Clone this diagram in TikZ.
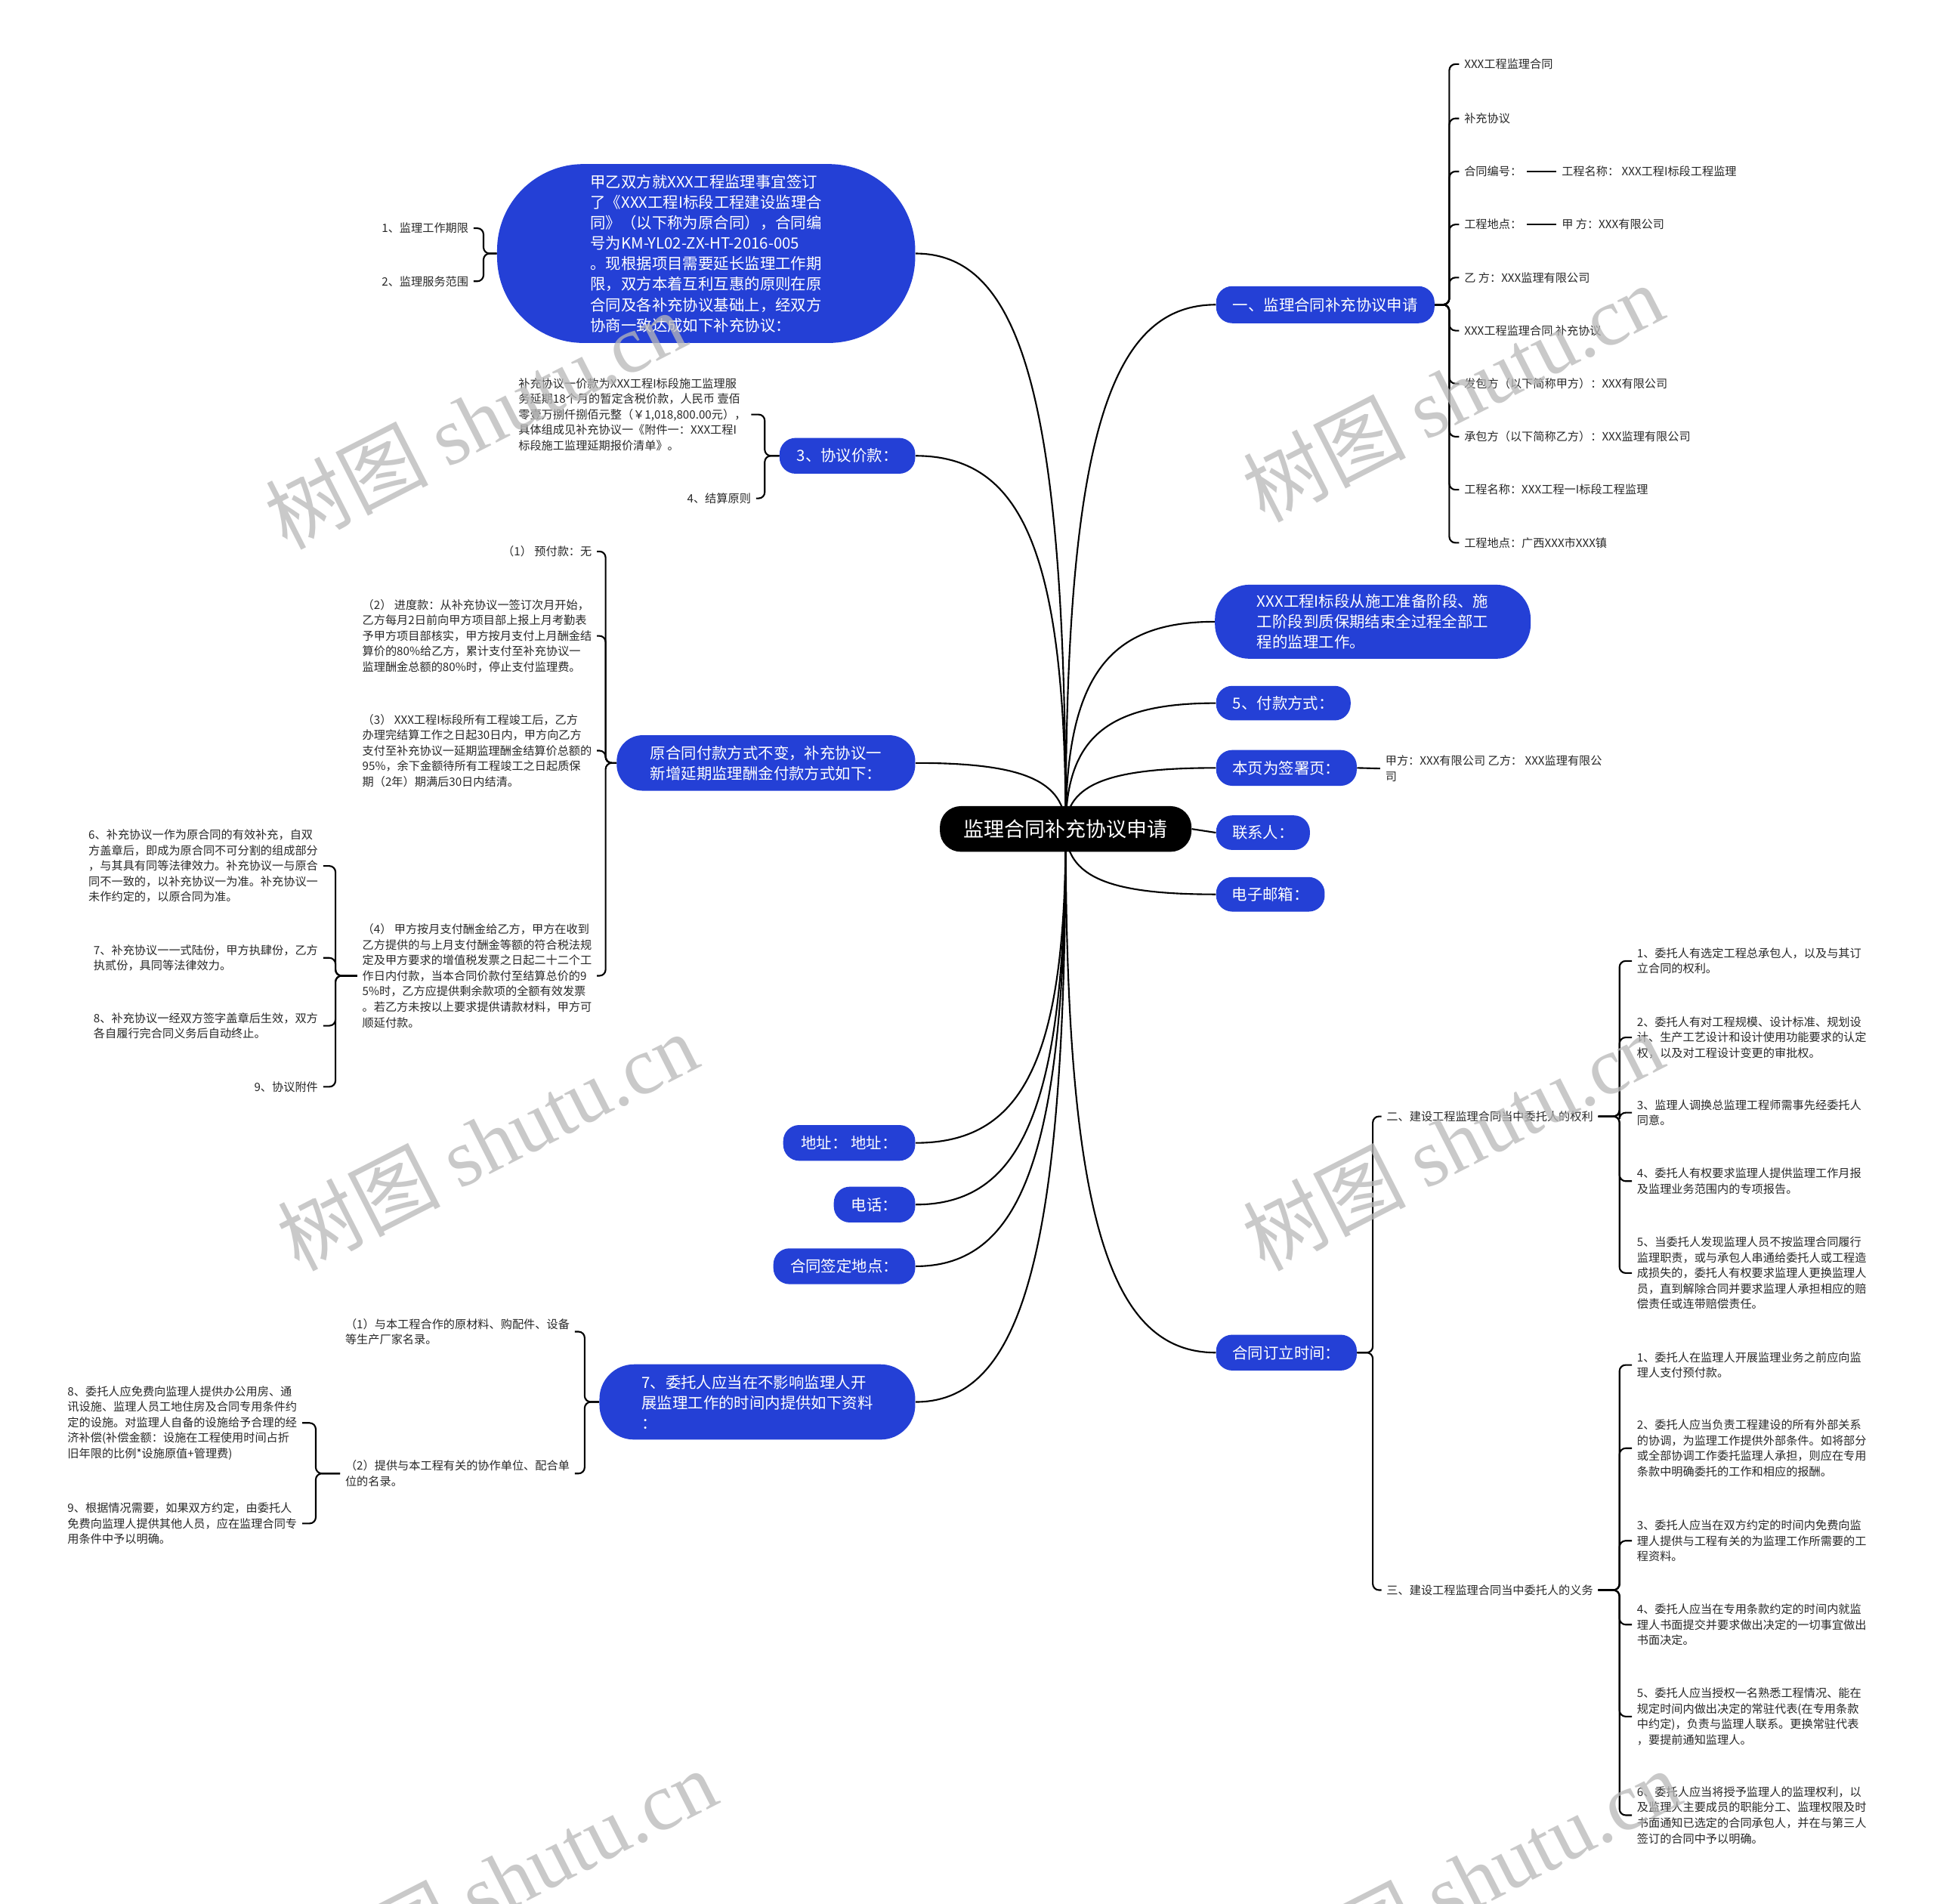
\documentclass[tikz,border=0pt]{standalone}
\usepackage{fontspec}
\setmainfont{Noto Sans CJK SC}
\newfontfamily\wmlatin{Liberation Serif}
\usetikzlibrary{calc,backgrounds}
\definecolor{nodeblue}{RGB}{36,64,214}
\definecolor{wmgray}{gray}{0.72}
\definecolor{leaftext}{RGB}{40,40,40}
\tikzset{
  conn/.style={draw=black, line width=1.3pt},
  bnode/.style={fill=nodeblue, text=white, font=\fontsize{12.5}{16.6}\selectfont, align=left, inner sep=0pt},
  leaf/.style={text=leaftext, font=\fontsize{9.3}{12.6}\selectfont, align=left, inner xsep=4pt, inner ysep=2pt},
  rootnode/.style={fill=black, text=white, font=\fontsize{16.5}{20}\selectfont, inner sep=0pt, rounded corners=17pt, minimum width=204pt, minimum height=37pt},
  wm/.style={text=wmgray, text opacity=0.75, rotate=27, font=\fontsize{66}{66}\selectfont}
}
\newcommand\branch[2]{\draw[conn] let \p1=(#1), \p2=(#2) in (\p1) .. controls (\x1, {\y2+0.25*(\y1-\y2)}) and ({\x1+0.3*(\x2-\x1)}, \y2) .. (\p2);}
\newcommand\mybrk[3]{\draw[conn, rounded corners=5pt] let \p1=(#1) in (\p1) -- (#2pt,\y1) |- (#3);}
\begin{document}
\begin{tikzpicture}[x=1pt,y=-1pt]
\useasboundingbox (0,0) rectangle (1568,1543);

% root
\node[rootnode] (root) at (864,672) {监理合同补充协议申请};

% right main nodes
\node[bnode, minimum width=177pt, minimum height=30pt, rounded corners=13pt] (n1) at (1074.5,247) {一、监理合同补充协议申请};
\node[bnode, minimum width=256pt, minimum height=60pt, rounded corners=28pt] (n2) at (1113,504) {XXX工程I标段从施工准备阶段、施\\工阶段到质保期结束全过程全部工\\程的监理工作。};
\node[bnode, minimum width=109pt, minimum height=28pt, rounded corners=13pt] (n3) at (1040.5,570) {5、付款方式：};
\node[bnode, minimum width=114pt, minimum height=29pt, rounded corners=13pt] (n4) at (1043,622.5) {本页为签署页：};
\node[bnode, minimum width=76pt, minimum height=28pt, rounded corners=13pt] (n5) at (1024,675) {联系人：};
\node[bnode, minimum width=88pt, minimum height=28pt, rounded corners=13pt] (n6) at (1030,725) {电子邮箱：};
\node[bnode, minimum width=114pt, minimum height=29pt, rounded corners=13pt] (n7) at (1043,1096.5) {合同订立时间：};

% left main nodes
\node[bnode, minimum width=339pt, minimum height=145pt, rounded corners=70pt] (L1) at (572.5,205.5) {甲乙双方就XXX工程监理事宜签订\\了《XXX工程I标段工程建设监理合\\同》（以下称为原合同），合同编\\号为KM-YL02-ZX-HT-2016-005\\。现根据项目需要延长监理工作期\\限，双方本着互利互惠的原则在原\\合同及各补充协议基础上，经双方\\协商一致达成如下补充协议：};
\node[bnode, minimum width=110pt, minimum height=29pt, rounded corners=13pt] (L2) at (687,369.5) {3、协议价款：};
\node[bnode, minimum width=242pt, minimum height=45pt, rounded corners=21pt] (L3) at (621,618.5) {原合同付款方式不变，补充协议一\\新增延期监理酬金付款方式如下：};
\node[bnode, minimum width=107pt, minimum height=29pt, rounded corners=13pt] (L4) at (688.5,926.5) {地址：~地址：};
\node[bnode, minimum width=66pt, minimum height=29pt, rounded corners=13pt] (L5) at (709,976.5) {电话：};
\node[bnode, minimum width=115pt, minimum height=29pt, rounded corners=13pt] (L6) at (684.5,1026.5) {合同签定地点：};
\node[bnode, minimum width=256pt, minimum height=61pt, rounded corners=28pt] (L7) at (614,1136.5) {7、委托人应当在不影响监理人开\\展监理工作的时间内提供如下资料\\：};

% children of n1
\node[leaf, anchor=west] (c1) at (1183,52) {XXX工程监理合同};
\node[leaf, anchor=west] (c2) at (1183,96) {补充协议};
\node[leaf, anchor=west] (c3) at (1183,139) {合同编号：};
\node[leaf, anchor=west] (s3) at (1262,139) {工程名称：~XXX工程I标段工程监理};
\node[leaf, anchor=west] (c4) at (1183,182) {工程地点：};
\node[leaf, anchor=west] (s4) at (1262,182) {甲 方：XXX有限公司};
\node[leaf, anchor=west] (c5) at (1183,225) {乙 方：XXX监理有限公司};
\node[leaf, anchor=west] (c6) at (1183,268) {XXX工程监理合同 补充协议};
\node[leaf, anchor=west] (c7) at (1183,311) {发包方（以下简称甲方）：XXX有限公司};
\node[leaf, anchor=west] (c8) at (1183,354) {承包方（以下简称乙方）：XXX监理有限公司};
\node[leaf, anchor=west] (c9) at (1183,397) {工程名称：XXX工程一I标段工程监理};
\node[leaf, anchor=west] (c10) at (1183,440) {工程地点：广西XXX市XXX镇};

% child of n4
\node[leaf, anchor=west] (s5) at (1119,623) {甲方：XXX有限公司 乙方：~XXX监理有限公\\司};

% children of n7
\node[leaf, anchor=west] (r2) at (1120,905) {二、建设工程监理合同当中委托人的权利};
\node[leaf, anchor=west] (r3) at (1120,1289) {三、建设工程监理合同当中委托人的义务};

\node[leaf, anchor=west] (r21) at (1323,779) {1、委托人有选定工程总承包人，以及与其订\\立合同的权利。};
\node[leaf, anchor=west] (r22) at (1323,841) {2、委托人有对工程规模、设计标准、规划设\\计、生产工艺设计和设计使用功能要求的认定\\权，以及对工程设计变更的审批权。};
\node[leaf, anchor=west] (r23) at (1323,902) {3、监理人调换总监理工程师需事先经委托人\\同意。};
\node[leaf, anchor=west] (r24) at (1323,957.5) {4、委托人有权要求监理人提供监理工作月报\\及监理业务范围内的专项报告。};
\node[leaf, anchor=west] (r25) at (1323,1032) {5、当委托人发现监理人员不按监理合同履行\\监理职责，或与承包人串通给委托人或工程造\\成损失的，委托人有权要求监理人更换监理人\\员，直到解除合同并要求监理人承担相应的赔\\偿责任或连带赔偿责任。};

\node[leaf, anchor=west] (r31) at (1323,1106.5) {1、委托人在监理人开展监理业务之前应向监\\理人支付预付款。};
\node[leaf, anchor=west] (r32) at (1323,1174) {2、委托人应当负责工程建设的所有外部关系\\的协调，为监理工作提供外部条件。如将部分\\或全部协调工作委托监理人承担，则应在专用\\条款中明确委托的工作和相应的报酬。};
\node[leaf, anchor=west] (r33) at (1323,1249) {3、委托人应当在双方约定的时间内免费向监\\理人提供与工程有关的为监理工作所需要的工\\程资料。};
\node[leaf, anchor=west] (r34) at (1323,1317) {4、委托人应当在专用条款约定的时间内就监\\理人书面提交并要求做出决定的一切事宜做出\\书面决定。};
\node[leaf, anchor=west] (r35) at (1323,1391.5) {5、委托人应当授权一名熟悉工程情况、能在\\规定时间内做出决定的常驻代表(在专用条款\\中约定)，负责与监理人联系。更换常驻代表\\，要提前通知监理人。};
\node[leaf, anchor=west] (r36) at (1323,1471.5) {6、委托人应当将授予监理人的监理权利，以\\及监理人主要成员的职能分工、监理权限及时\\书面通知已选定的合同承包人，并在与第三人\\签订的合同中予以明确。};

% children of L1
\node[leaf, anchor=east] (l11) at (384,185) {1、监理工作期限};
\node[leaf, anchor=east] (l12) at (384,228) {2、监理服务范围};

% children of L2
\node[leaf, anchor=east] (l21) at (609,336) {补充协议一价款为XXX工程I标段施工监理服\\务延期18个月的暂定含税价款，人民币 壹佰\\零壹万捌仟捌佰元整（￥1,018,800.00元），\\具体组成见补充协议一《附件一：XXX工程I\\标段施工监理延期报价清单》。};
\node[leaf, anchor=east] (l22) at (613,404) {4、结算原则};

% children of L3
\node[leaf, anchor=east] (l31) at (484,447) {（1） 预付款：无};
\node[leaf, anchor=east] (l32) at (484,515.5) {（2） 进度款：从补充协议一签订次月开始，\\乙方每月2日前向甲方项目部上报上月考勤表\\予甲方项目部核实，甲方按月支付上月酬金结\\算价的80\%给乙方，累计支付至补充协议一\\监理酬金总额的80\%时，停止支付监理费。};
\node[leaf, anchor=east] (l33) at (484,608.5) {（3） XXX工程I标段所有工程竣工后，乙方\\办理完结算工作之日起30日内，甲方向乙方\\支付至补充协议一延期监理酬金结算价总额的\\95\%，余下金额待所有工程竣工之日起质保\\期（2年）期满后30日内结清。};
\node[leaf, anchor=east] (l34) at (484,791) {（4） 甲方按月支付酬金给乙方，甲方在收到\\乙方提供的与上月支付酬金等额的符合税法规\\定及甲方要求的增值税发票之日起二十二个工\\作日内付款，当本合同价款付至结算总价的9\\5\%时，乙方应提供剩余款项的全额有效发票\\。若乙方未按以上要求提供请款材料，甲方可\\顺延付款。};

% children of l34
\node[leaf, anchor=east] (l41) at (262,702) {6、补充协议一作为原合同的有效补充，自双\\方盖章后，即成为原合同不可分割的组成部分\\，与其具有同等法律效力。补充协议一与原合\\同不一致的，以补充协议一为准。补充协议一\\未作约定的，以原合同为准。};
\node[leaf, anchor=east] (l42) at (262,776.5) {7、补充协议一一式陆份，甲方执肆份，乙方\\执贰份，具同等法律效力。};
\node[leaf, anchor=east] (l43) at (262,831.5) {8、补充协议一经双方签字盖章后生效，双方\\各自履行完合同义务后自动终止。};
\node[leaf, anchor=east] (l44) at (262,881) {9、协议附件};

% children of L7
\node[leaf, anchor=east] (l71) at (466,1079.5) {（1）与本工程合作的原材料、购配件、设备\\等生产厂家名录。};
\node[leaf, anchor=east] (l72) at (466,1194.5) {（2）提供与本工程有关的协作单位、配合单\\位的名录。};

% children of l72
\node[leaf, anchor=east] (l81) at (245,1153.5) {8、委托人应免费向监理人提供办公用房、通\\讯设施、监理人员工地住房及合同专用条件约\\定的设施。对监理人自备的设施给予合理的经\\济补偿(补偿金额：设施在工程使用时间占折\\旧年限的比例*设施原值+管理费)};
\node[leaf, anchor=east] (l82) at (245,1235) {9、根据情况需要，如果双方约定，由委托人\\免费向监理人提供其他人员，应在监理合同专\\用条件中予以明确。};

\begin{scope}[on background layer]
  \fill[white] (0,0) rectangle (1568,1543);
  % root branches
  \branch{root.center}{n1.west}
  \branch{root.center}{n2.west}
  \branch{root.center}{n3.west}
  \branch{root.center}{n4.west}
  \draw[conn] (root.east) -- (n5.west);
  \branch{root.center}{n6.west}
  \branch{root.center}{n7.west}
  \branch{root.center}{L1.east}
  \branch{root.center}{L2.east}
  \branch{root.center}{L3.east}
  \branch{root.center}{L4.east}
  \branch{root.center}{L5.east}
  \branch{root.center}{L6.east}
  \branch{root.center}{L7.east}
  % n1 brace
  \foreach \c in {c1,c2,c3,c4,c5,c6,c7,c8,c9,c10} {\mybrk{n1.east}{1175}{\c.west}}
  \draw[conn] (c3.east) -- (s3.west);
  \draw[conn] (c4.east) -- (s4.west);
  \draw[conn] (n4.east) -- (s5.west);
  % n7 brace
  \foreach \c in {r2,r3} {\mybrk{n7.east}{1113}{\c.west}}
  \foreach \c in {r21,r22,r23,r24,r25} {\mybrk{r2.east}{1313}{\c.west}}
  \foreach \c in {r31,r32,r33,r34,r35,r36} {\mybrk{r3.east}{1313}{\c.west}}
  % left braces
  \foreach \c in {l11,l12} {\mybrk{L1.west}{392}{\c.east}}
  \foreach \c in {l21,l22} {\mybrk{L2.west}{620}{\c.east}}
  \foreach \c in {l31,l32,l33,l34} {\mybrk{L3.west}{491}{\c.east}}
  \foreach \c in {l41,l42,l43,l44} {\mybrk{l34.west}{272}{\c.east}}
  \foreach \c in {l71,l72} {\mybrk{L7.west}{474}{\c.east}}
  \foreach \c in {l81,l82} {\mybrk{l72.west}{256}{\c.east}}
\end{scope}

% watermarks
\begin{scope}
  \clip (0,0) rectangle (1568,1543);
  \node[wm] (w1) at (385,340) {树图 {\wmlatin shutu.cn}};
  \node[wm] (w2) at (1178,318) {树图 {\wmlatin shutu.cn}};
  \node[wm] (w3) at (395,925) {树图 {\wmlatin shutu.cn}};
  \node[wm] (w4) at (1178,925) {树图 {\wmlatin shutu.cn}};
  \node[wm] (w5) at (410,1522) {树图 {\wmlatin shutu.cn}};
  \node[wm] (w6) at (1192,1522) {树图 {\wmlatin shutu.cn}};
\end{scope}
\end{tikzpicture}
\end{document}
